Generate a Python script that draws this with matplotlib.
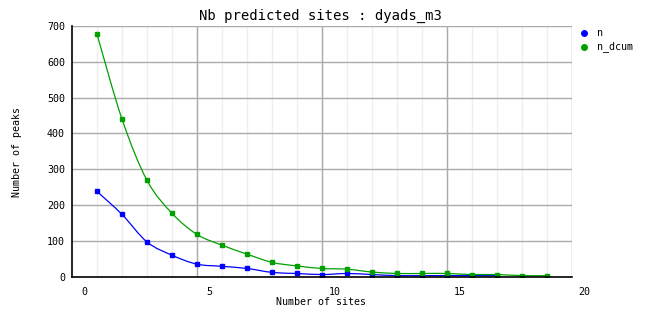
import matplotlib
matplotlib.use("Agg")
import matplotlib.pyplot as plt
import numpy as np
from matplotlib.transforms import blended_transform_factory
from matplotlib.path import Path
from matplotlib.patches import PathPatch

x_n = [0.5, 1.5, 2.5, 3.5, 4.5, 5.5, 6.5, 7.5, 8.5, 9.5, 10.5, 11.5, 12.5, 13.5, 14.5, 15.5, 16.5]
n = [238, 174, 97, 60, 35, 29, 23, 12, 9, 6, 9, 6, 3, 3, 3, 3, 3]
x_dcum = [0.5, 1.5, 2.5, 3.5, 4.5, 5.5, 6.5, 7.5, 8.5, 9.5, 10.5, 11.5, 12.5, 13.5, 14.5, 15.5, 16.5, 17.5, 18.5]
n_dcum = [677, 440, 269, 177, 118, 88, 63, 40, 30, 23, 21, 13, 9, 9, 9, 6, 6, 3, 3]
xtick_labels = [0, 5, 10, 15, 20]
yticks = [0, 100, 200, 300, 400, 500, 600, 700]


def smooth_path(xs, ys):
    P = np.column_stack([xs, ys]).astype(float)
    verts = [P[0]]
    codes = [Path.MOVETO]
    m = len(P)
    for i in range(m - 1):
        p0 = P[i - 1] if i > 0 else P[i]
        p1 = P[i]
        p2 = P[i + 1]
        p3 = P[i + 2] if i + 2 < m else P[i + 1]
        c1 = p1 + (p2 - p0) / 6.0
        c2 = p2 - (p3 - p1) / 6.0
        verts += [c1, c2, p2]
        codes += [Path.CURVE4] * 3
    return Path(verts, codes)


W, H = 662, 328
fig = plt.figure(figsize=(W / 100, H / 100), dpi=100)
ax = fig.add_axes([72 / W, (H - 276.7) / H, 500 / W, 250.7 / H])
ax.set_xlim(-0.5, 19.5)
ax.set_ylim(0, 700)

mono = "DejaVu Sans Mono"
for xv in np.arange(0.5, 19.5, 1.0):
    ax.axvline(xv, color="#eeeeee", lw=1, zorder=0)
for xv in [4.5, 9.5, 14.5, 19.5]:
    ax.axvline(xv, color="#aaaaaa", lw=1, zorder=0.5)
for yv in yticks[1:]:
    ax.axhline(yv, color="#aaaaaa", lw=1, zorder=0.5)

blue = "#0000ff"
green = "#00a000"
for xs, ys, col, z in [(x_n, n, blue, 3), (x_dcum, n_dcum, green, 4)]:
    ax.add_patch(PathPatch(smooth_path(xs, ys), facecolor="none", edgecolor=col, lw=0.9, zorder=z))
    ax.plot(xs, ys, ls="", marker="s", ms=2.8, mec=col, mfc=col, zorder=z + 0.1)

for s in ["top", "right"]:
    ax.spines[s].set_visible(False)
for s in ["left", "bottom"]:
    ax.spines[s].set_color("black")
    ax.spines[s].set_linewidth(1.2)
    ax.spines[s].set_zorder(5)

ax.set_xticks([])
ax.set_yticks(yticks)
ax.set_yticklabels([str(v) for v in yticks], fontfamily=mono, fontsize=7.2)
ax.tick_params(axis="y", length=0, pad=5)

trans = blended_transform_factory(ax.transData, ax.transAxes)
for v in xtick_labels:
    ax.text(v, -0.04, str(v), transform=trans, ha="center", va="top",
            fontfamily=mono, fontsize=7.2, clip_on=False)

fig.text(321 / W, 1 - 302 / H, "Number of sites", ha="center", va="center",
         fontfamily=mono, fontsize=7.2)
fig.text(17 / W, 1 - 152 / H, "Number of peaks", ha="center", va="center",
         rotation=90, fontfamily=mono, fontsize=7.2)
fig.text(320 / W, 1 - 16 / H, "Nb predicted sites : dyads_m3", ha="center", va="center",
         fontfamily=mono, fontsize=10)

for i, (lab, col) in enumerate([("n", blue), ("n_dcum", green)]):
    yy = 1 - (33 + 14 * i) / H
    fig.lines.append(plt.Line2D([584 / W], [yy], transform=fig.transFigure, marker="o",
                                ms=4, color=col, ls=""))
    fig.text(597 / W, yy, lab, ha="left", va="center", fontfamily=mono, fontsize=7.2)

fig.savefig("out.png", dpi=100)
